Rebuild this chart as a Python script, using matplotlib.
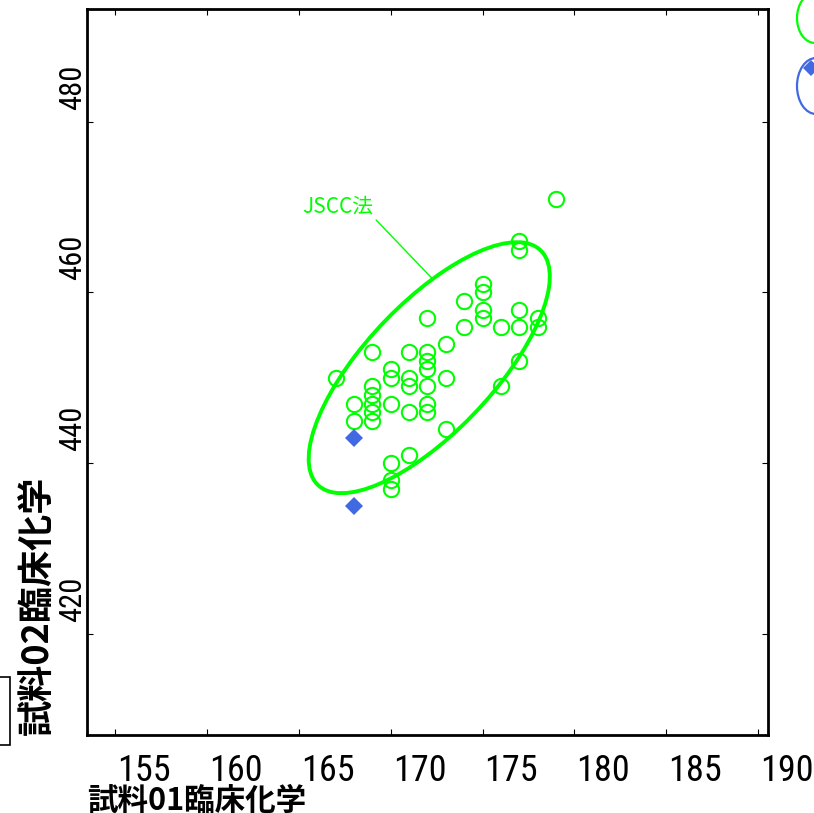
import numpy as np
import matplotlib
matplotlib.use("Agg")
import matplotlib.pyplot as plt
from matplotlib.patches import Ellipse, Rectangle
from matplotlib.lines import Line2D
from matplotlib.transforms import ScaledTranslation
from matplotlib import font_manager

# 試料01 / 試料02 の測定値（JSCC法）
jscc_x = [167, 168, 168, 169, 169, 169, 169, 169, 169, 170, 170, 170, 170, 170, 170,
          171, 171, 171, 171, 171, 172, 172, 172, 172, 172, 172, 172, 173, 173, 173,
          174, 174, 175, 175, 175, 175, 176, 176, 177, 177, 177, 177, 177, 178, 178, 179]
jscc_y = [450, 447, 445, 453, 449, 448, 447, 446, 445, 451, 450, 447, 440, 438, 437,
          453, 450, 449, 446, 441, 457, 453, 452, 451, 449, 447, 446, 454, 450, 444,
          459, 456, 461, 460, 458, 457, 456, 449, 466, 465, 458, 456, 452, 457, 456, 471]

# 青い菱形
other_x = [168, 168]
other_y = [443, 435]

# 楕円（中心、半幅、相関）
ell_center = (172.1, 451.2)
ell_half_x = 6.56
ell_half_y = 14.69
ell_r = 0.727

x_ticks = [155, 160, 165, 170, 175, 180, 185, 190]
y_ticks = [420, 440, 460, 480]

green = "#00ff00"
blue = "#4169e1"
jp_font = ["Noto Sans CJK JP", "DejaVu Sans"]

# 細い数字のフォントを探す
names = {f.name for f in font_manager.fontManager.ttflist}
num_font = "DejaVu Sans"
for cand in ["Liberation Sans Narrow", "DejaVu Sans Condensed", "Roboto Condensed"]:
    if cand in names:
        num_font = cand
        break

fig = plt.figure(figsize=(8.14, 8.13), dpi=100)
ax = fig.add_axes([87 / 814, 78 / 813, 681 / 814, 725.7 / 813])

ax.plot(jscc_x, jscc_y, "o", mfc="none", mec=green, ms=11, mew=1.5)
ax.plot(other_x, other_y, "D", color=blue, ms=9, mew=0)

# 共分散から楕円を作る
cov = np.array([[ell_half_x ** 2, ell_r * ell_half_x * ell_half_y],
                [ell_r * ell_half_x * ell_half_y, ell_half_y ** 2]])
vals, vecs = np.linalg.eigh(cov)
angle = np.degrees(np.arctan2(vecs[1, 1], vecs[0, 1]))
ax.add_patch(Ellipse(ell_center, 2 * np.sqrt(vals[1]), 2 * np.sqrt(vals[0]),
                     angle=angle, fill=False, ec=green, lw=2.8))

ax.annotate("JSCC法", xy=(172.32, 461.5), xytext=(167.13, 470.1),
            color=green, fontsize=15, family=jp_font, ha="center", va="center",
            arrowprops=dict(arrowstyle="-", color=green, lw=1, relpos=(1, 0),
                            shrinkA=0, shrinkB=0))

ax.set_xlim(153.48, 190.53)
ax.set_ylim(408.2, 493.15)
ax.set_xticks(x_ticks)
ax.set_yticks(y_ticks)
ax.tick_params(direction="in", length=4, width=0.8, top=True, right=True)
ax.tick_params(axis="x", pad=13)
ax.tick_params(axis="y", pad=0)
for s in ax.spines.values():
    s.set_linewidth(2)

narrow = num_font != "DejaVu Sans"
for lbl in ax.get_xticklabels():
    lbl.set_family(num_font)
    lbl.set_fontsize(26 if narrow else 21)
    lbl.set_ha("left")
    lbl.set_transform(lbl.get_transform() + ScaledTranslation(0.02, 0, fig.dpi_scale_trans))
for lbl in ax.get_yticklabels():
    lbl.set_family(num_font)
    lbl.set_fontsize(22 if narrow else 19)
    lbl.set_rotation(90)
    lbl.set_va("bottom")
    lbl.set_transform(lbl.get_transform() + ScaledTranslation(0, 0.12, fig.dpi_scale_trans))

ax.set_xlabel("試料01臨床化学", loc="left", family=jp_font, fontweight="bold", fontsize=22)
ax.xaxis.set_label_coords(0, -0.069)
ax.set_ylabel("試料02臨床化学", loc="bottom", family=jp_font, fontweight="bold", fontsize=26)
ax.yaxis.set_label_coords(-0.045, 0)

# 右側で切れている凡例
fig.add_artist(Ellipse((815 / 814, 1 - 18 / 813), 36 / 814, 50 / 813,
                       fill=False, ec=green, lw=1.6, transform=fig.transFigure))
fig.add_artist(Ellipse((816 / 814, 1 - 86 / 813), 38 / 814, 56 / 813,
                       fill=False, ec=blue, lw=1.6, transform=fig.transFigure))
fig.add_artist(Line2D([811 / 814], [1 - 68 / 813], marker="D", color=blue, ms=8, mew=0,
                      transform=fig.transFigure))
# 左下で切れている枠
fig.add_artist(Rectangle((-50 / 814, 1 - 745 / 813), 60 / 814, 68 / 813,
                         fill=False, ec="black", lw=1.2, transform=fig.transFigure))

fig.savefig("out.png", dpi=100)
